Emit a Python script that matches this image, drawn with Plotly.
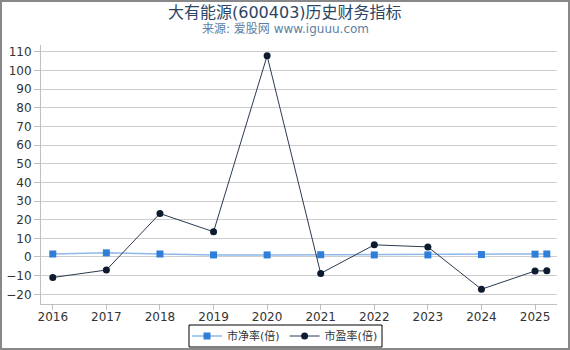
import plotly.graph_objects as go

years = [2016, 2017, 2018, 2019, 2020, 2021, 2022, 2023, 2024, 2025, 2025.22]
pb = [1.6, 2.2, 1.6, 1.1, 1.1, 1.2, 1.1, 1.1, 1.3, 1.5, 1.6]
pe = [-11.0, -7.0, 23.3, 13.5, 107.8, -8.8, 6.5, 5.4, -17.3, -7.5, -7.4]
tick_years = [2016, 2017, 2018, 2019, 2020, 2021, 2022, 2023, 2024, 2025]
y_ticks = list(range(-20, 111, 10))

fig = go.Figure()
fig.add_trace(go.Scatter(
    x=years, y=pb, name="市净率(倍)", mode="lines+markers",
    line=dict(color="#8fb8ea", width=1.5),
    marker=dict(symbol="square", size=7, color="#2f7ed8"),
))
fig.add_trace(go.Scatter(
    x=years, y=pe, name="市盈率(倍)", mode="lines+markers",
    line=dict(color="#2a3a50", width=1),
    marker=dict(symbol="circle", size=7, color="#0d1b2e"),
))

L, R, T, B = 41, 13, 45, 46
W, H = 570, 350
pw, ph = W - L - R, H - T - B

def py(pix):
    # pixel y from top -> paper y
    return (H - B - pix) / ph

def px(pix):
    return (pix - L) / pw

fig.update_layout(
    width=W, height=H,
    margin=dict(l=L, r=R, t=T, b=B, autoexpand=False),
    paper_bgcolor="white", plot_bgcolor="white",
    font=dict(family="DejaVu Sans, Noto Sans CJK SC", size=12, color="#333333"),
    showlegend=True,
    legend=dict(
        orientation="h", x=px(285), xanchor="center", y=py(336), yanchor="middle",
        borderwidth=0, bgcolor="rgba(0,0,0,0)",
        font=dict(size=11, color="#333333"),
        tracegroupgap=0, itemwidth=30,
    ),
    annotations=[
        dict(text="大有能源(600403)历史财务指标", xref="paper", yref="paper",
             x=px(285), y=py(12),
             xanchor="center", yanchor="middle", showarrow=False,
             font=dict(size=16, color="#2b4566")),
        dict(text="来源: 爱股网 www.iguuu.com", xref="paper", yref="paper",
             x=px(285), y=py(29),
             xanchor="center", yanchor="middle", showarrow=False,
             font=dict(size=12, color="#5b7fa6")),
    ],
    xaxis=dict(
        range=[2015.78, 2025.41], tickmode="array", tickvals=tick_years,
        ticktext=[str(y) for y in tick_years],
        showgrid=False, showline=True, linecolor="#c0c0c0", linewidth=1,
        ticks="outside", tickcolor="#c0c0c0", ticklen=5, zeroline=False,
        ticklabelstandoff=-3,
    ),
    yaxis=dict(
        range=[-25.2, 113.6], tickmode="array", tickvals=y_ticks,
        showgrid=True, gridcolor="#cccccc", gridwidth=1,
        showline=True, linecolor="#c0c0c0", linewidth=1,
        ticks="outside", tickcolor="#c0c0c0", ticklen=6, zeroline=False,
    ),
    shapes=[
        dict(type="rect", xref="paper", yref="paper",
             x0=px(1), x1=px(W - 1), y0=py(H - 1), y1=py(1),
             line=dict(color="#888888", width=2), layer="above"),
        dict(type="rect", xref="paper", yref="paper",
             x0=px(189), x1=px(382), y0=py(347), y1=py(325),
             line=dict(color="#000000", width=1), layer="above"),
    ],
)

fig.write_html("out.html")
